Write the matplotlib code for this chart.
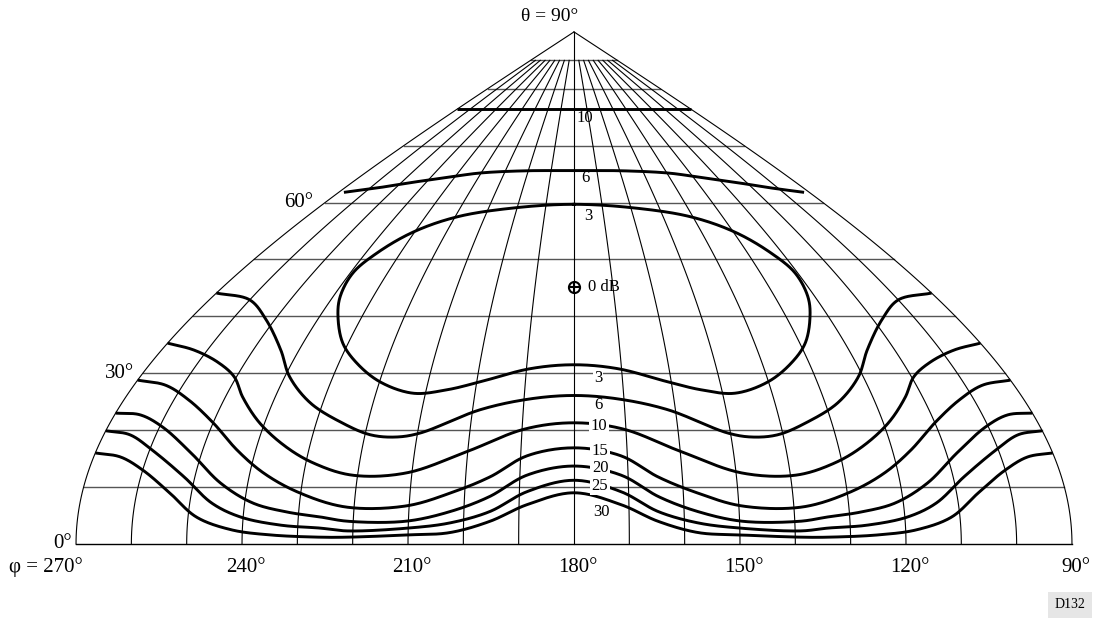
import numpy as np
import matplotlib
matplotlib.use('Agg')
import matplotlib.pyplot as plt

plt.rcParams['font.family'] = ['Liberation Serif', 'DejaVu Serif']

# azimuth phi (deg) and elevation theta (deg)
phi_3 = [180, 201.4, 219.3, 230.5, 236.8, 239.3, 238.2, 235.6, 231.2, 226.2, 219.9, 212.5,
         205.8, 199.3, 189.3, 180, 170.7, 160.7, 154.2, 147.5, 140.1, 133.8, 128.8, 124.4,
         121.8, 120.7, 123.2, 129.5, 140.7, 158.6]
theta_3 = [59.7, 59.05, 57.5, 54.8, 51.1, 47.6, 43.4, 39.9, 35.3, 31.8, 28.5, 26.5,
           27.1, 28.5, 30.8, 31.5, 30.8, 28.5, 27.1, 26.5, 28.5, 31.8, 35.3, 39.9,
           43.4, 47.6, 51.1, 54.8, 57.5, 59.05]

phi_6_top = [268, 257, 245, 232, 220.5, 200, 180, 160, 139.5, 128, 115, 103, 92]
theta_6_top = [61.8, 62.6, 63.6, 64.5, 65.2, 65.6, 65.6, 65.6, 65.2, 64.5, 63.6, 62.6, 61.8]

phi_10_top = [270, 180, 90]
theta_10_top = [76.4, 76.4, 76.4]

phi_6 = [270, 260, 252, 244, 239, 232.5, 225, 219, 214, 209.5, 198.5, 188.8, 180,
         171.2, 161.5, 150.5, 146, 141, 135, 127.5, 121, 116, 108, 100, 90]
theta_6 = [44.1, 42.9, 39.4, 34.1, 29.4, 24.8, 21.3, 19.2, 18.8, 19.5, 23.6, 25.5, 26.1,
           25.5, 23.6, 19.5, 18.8, 19.2, 21.3, 24.8, 29.4, 34.1, 39.4, 42.9, 44.1]

phi_10 = [270, 263, 256, 250.5, 246.5, 241, 234.5, 228.5, 221, 211, 200, 189.5, 180,
          170.5, 160, 149, 139, 131.5, 125.5, 119, 113.5, 109.5, 104, 97, 90]
theta_10 = [35.3, 34.1, 32.0, 29.4, 25.8, 21.3, 17.1, 14.2, 12.1, 12.5, 16.3, 20.2, 21.3,
            20.2, 16.3, 12.5, 12.1, 14.2, 17.1, 21.3, 25.8, 29.4, 32.0, 34.1, 35.3]

phi_15 = [270, 263.5, 257, 250, 243.5, 237.5, 230.5, 221.5, 210.5, 202.5, 195.5, 188.8, 180,
          171.2, 164.5, 157.5, 149.5, 138.5, 129.5, 122.5, 116.5, 110, 103, 96.5, 90]
theta_15 = [28.8, 27.9, 25.3, 21.3, 16.5, 12.5, 9.1, 6.5, 6.7, 9.0, 11.8, 15.5, 16.9,
            15.5, 11.8, 9.0, 6.7, 6.5, 9.1, 12.5, 16.5, 21.3, 25.3, 27.9, 28.8]

phi_20 = [270, 265, 259.5, 252, 245, 238.5, 232, 226, 221, 210.5, 202.5, 195.5, 188.7, 180,
          171.3, 164.5, 157.5, 149.5, 139, 134, 128, 121.5, 115, 108, 100.5, 95, 90]
theta_20 = [23.0, 22.7, 20.6, 16.0, 10.7, 7.2, 5.6, 4.75, 4.0, 4.0, 5.7, 8.3, 12.1, 13.7,
            12.1, 8.3, 5.7, 4.0, 4.0, 4.75, 5.6, 7.2, 10.7, 16.0, 20.6, 22.7, 23.0]

phi_25 = [270, 265, 259.5, 252, 246, 240.5, 233, 226, 221, 210, 202.5, 195.3, 188.6, 180,
          171.4, 164.7, 157.5, 150, 139, 134, 127, 119.5, 114, 108, 100.5, 95, 90]
theta_25 = [19.9, 19.2, 16.5, 11.8, 7.2, 4.75, 3.3, 2.8, 2.3, 2.8, 3.7, 5.7, 9.2, 11.2,
            9.2, 5.7, 3.7, 2.8, 2.3, 2.8, 3.3, 4.75, 7.2, 11.8, 16.5, 19.2, 19.9]

phi_30 = [270, 265, 260, 254, 248.5, 242, 235, 226, 221, 210, 202.5, 195.2, 188.6, 180,
          171.4, 164.8, 157.5, 150, 139, 134, 125, 118, 111.5, 106, 100, 95, 90]
theta_30 = [16.0, 15.3, 13.0, 9.0, 4.75, 2.5, 1.6, 1.2, 1.2, 1.6, 2.0, 4.0, 6.9, 9.0,
            6.9, 4.0, 2.0, 1.6, 1.2, 1.2, 1.6, 2.5, 4.75, 9.0, 13.0, 15.3, 16.0]

peak_phi, peak_theta = 180, 45.2

theta_grid = [0, 10, 20, 30, 40, 50, 60, 70, 80, 85]
phi_grid = list(range(90, 271, 10))
phi_ticks = [270, 240, 210, 180, 150, 120, 90]
theta_ticks = [60, 30, 0]

# reference geometry: centre of the base and pixels per degree
W, H = 1095, 620
X0, Y0 = 574, 544
SX, SY = 5.533, 5.69


def proj(phi, theta):
    # sinusoidal (Sanson) projection, phi = 270 on the left
    phi = np.asarray(phi, float)
    theta = np.asarray(theta, float)
    return (180 - phi) * np.cos(np.radians(theta)), theta


def at(px, py):
    return (px - X0) / SX, (Y0 - py) / SY


def smooth(phi, theta, closed=False, n=30):
    # centripetal catmull-rom through the projected points, done in pixel units
    x, y = proj(phi, theta)
    p = np.column_stack([x * SX, y * SY])
    if closed:
        pts = np.vstack([p[-1], p, p[0], p[1]])
    else:
        pts = np.vstack([2 * p[0] - p[1], p, 2 * p[-1] - p[-2]])
    out = []
    for i in range(1, len(pts) - 2):
        P0, P1, P2, P3 = pts[i - 1:i + 3]
        t0 = 0.0
        t1 = t0 + max(np.linalg.norm(P1 - P0), 1e-6) ** 0.5
        t2 = t1 + max(np.linalg.norm(P2 - P1), 1e-6) ** 0.5
        t3 = t2 + max(np.linalg.norm(P3 - P2), 1e-6) ** 0.5
        t = np.linspace(t1, t2, n, endpoint=False)[:, None]
        A1 = (t1 - t) / (t1 - t0) * P0 + (t - t0) / (t1 - t0) * P1
        A2 = (t2 - t) / (t2 - t1) * P1 + (t - t1) / (t2 - t1) * P2
        A3 = (t3 - t) / (t3 - t2) * P2 + (t - t2) / (t3 - t2) * P3
        B1 = (t2 - t) / (t2 - t0) * A1 + (t - t0) / (t2 - t0) * A2
        B2 = (t3 - t) / (t3 - t1) * A2 + (t - t1) / (t3 - t1) * A3
        out.append((t2 - t) / (t2 - t1) * B1 + (t - t1) / (t2 - t1) * B2)
    out.append(pts[-2][None])
    s = np.vstack(out)
    return s[:, 0] / SX, s[:, 1] / SY


fig = plt.figure(figsize=(W / 100, H / 100), dpi=100)
ax = fig.add_axes([0, 0, 1, 1])
ax.set_xlim(-X0 / SX, (W - X0) / SX)
ax.set_ylim(-(H - Y0) / SY, Y0 / SY)
ax.axis('off')

# grid
for t in theta_grid:
    half = 90 * np.cos(np.radians(t))
    ax.plot([-half, half], [t, t], color='k' if t == 0 else '#555555', lw=1.0, zorder=1)
for p in phi_grid:
    top = 90 if p in (90, 180, 270) else 85
    tt = np.linspace(0, top, 120)
    x, y = proj(np.full_like(tt, p), tt)
    ax.plot(x, y, color='k', lw=0.8, zorder=1)

# contours
for ph, th in [(phi_6_top, theta_6_top), (phi_10_top, theta_10_top), (phi_6, theta_6),
               (phi_10, theta_10), (phi_15, theta_15), (phi_20, theta_20),
               (phi_25, theta_25), (phi_30, theta_30)]:
    x, y = smooth(ph, th)
    ax.plot(x, y, color='k', lw=2.1, zorder=2, solid_capstyle='butt')
x, y = smooth(phi_3, theta_3, closed=True)
ax.plot(x, y, color='k', lw=2.1, zorder=2)

# 0 dB point
px, py = proj(peak_phi, peak_theta)
ax.plot(px, py, marker='o', ms=8, mfc='none', mec='k', mew=1.5, zorder=3)
ax.plot(px, py, marker='+', ms=9, mec='k', mew=1.5, zorder=3)
ax.text(*at(588, 287), '0 dB', fontsize=12, ha='left', va='center')

# contour labels
white = dict(fc='white', ec='none', pad=1)
for lab, (lx, ly), box in [('10', (585, 118), None), ('6', (585, 178), None),
                           ('3', (588, 216), None), ('3', (598, 378), white),
                           ('6', (598, 405), None), ('10', (599, 426), white),
                           ('15', (600, 451), white), ('20', (600, 468), white),
                           ('25', (600, 486), white), ('30', (601, 512), None)]:
    ax.text(*at(lx, ly), lab, fontsize=12, ha='center', va='center', bbox=box, zorder=4)

# axis labels
for p in phi_ticks:
    x, _ = proj(p, 0)
    if p == 270:
        ax.text(*at(83, 567), 'φ = 270°', fontsize=15, ha='right', va='center')
    else:
        ax.text(x + 4 / SX, at(0, 567)[1], f'{p}°', fontsize=15, ha='center', va='center')
for t, xr in zip(theta_ticks, [313, 134, 72]):
    ax.text(at(xr, 0)[0], t, f'{t}°', fontsize=15, ha='right', va='center')
ax.text(*at(578, 17), 'θ = 90°', fontsize=14, ha='right', va='center')

ax.text(*at(1070, 605), 'D132', fontsize=10, ha='center', va='center',
        bbox=dict(fc='#e6e6e6', ec='none', pad=5))

fig.savefig('out.png', dpi=100)
